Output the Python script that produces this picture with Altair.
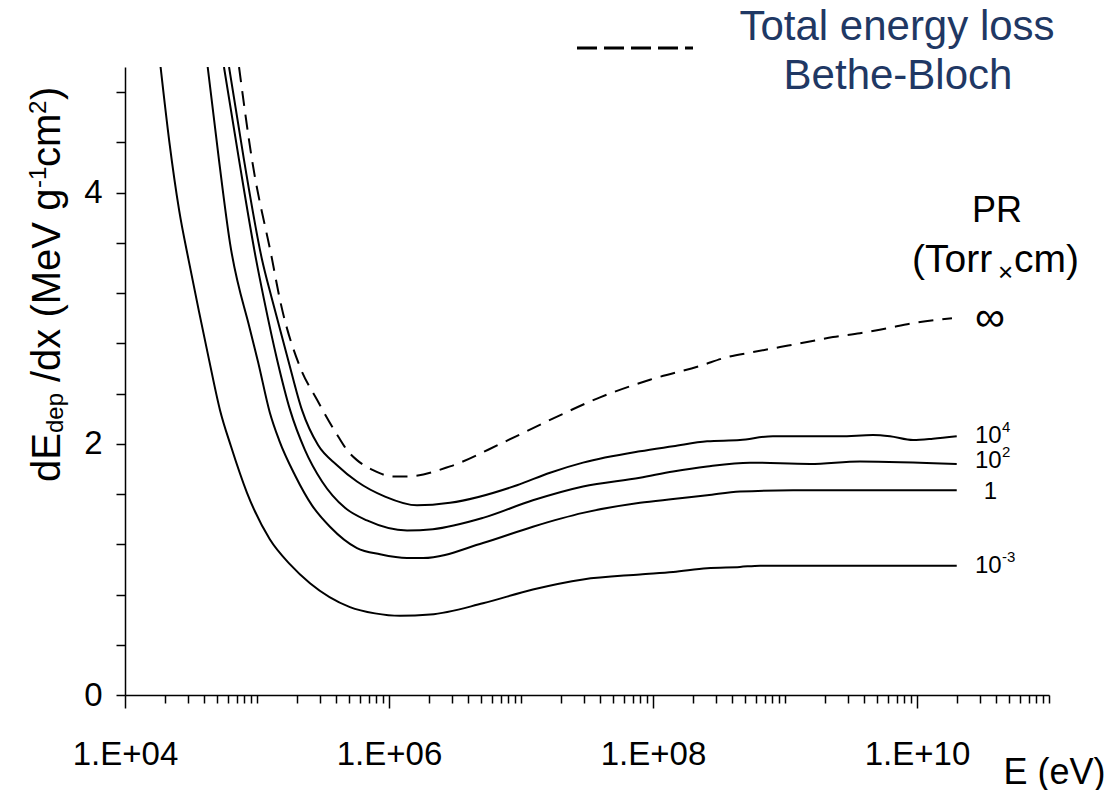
import altair as alt
import pandas as pd

FONT = "Liberation Sans, Arial, Helvetica, sans-serif"
NAVY = "#1f3864"

# Deposited energy dE_dep/dx (MeV g^-1 cm^2) against particle energy E (eV),
# one curve per pressure x range product PR (Torr x cm).
e_a = [1.86e4, 2.17e4, 2.57e4, 3.05e4, 3.64e4, 4.33e4, 5.24e4, 6.35e4, 8.40e4, 1.25e5,
       1.78e5, 2.52e5, 5.06e5, 7.83e5, 1.21e6, 2.05e6, 5.15e6, 1.23e7, 2.95e7, 7.97e7,
       1.42e8, 2.57e8, 4.56e8, 6.47e8, 2.0e10]
v_a = [5.0, 4.40, 3.86, 3.45, 3.05, 2.67, 2.27, 1.98, 1.61, 1.24,
       1.04, 0.89, 0.70, 0.65, 0.63, 0.64, 0.73, 0.84, 0.92, 0.96,
       0.98, 1.01, 1.02, 1.03, 1.03]

e_b = [4.23e4, 5.15e4, 6.24e4, 8.85e4, 1.02e5, 1.25e5, 1.47e5, 1.94e5, 2.61e5,
       3.57e5, 5.72e5, 8.55e5, 1.37e6, 1.81e6, 5.15e6, 1.23e7, 2.95e7, 7.97e7, 1.42e8,
       2.57e8, 4.56e8, 1.15e9, 2.0e10]
v_b = [5.0, 4.26, 3.60, 2.91, 2.65, 2.25, 2.03, 1.75, 1.51,
       1.34, 1.17, 1.12, 1.09, 1.09, 1.21, 1.34, 1.45, 1.53, 1.56,
       1.59, 1.62, 1.63, 1.63]

e_c = [5.62e4, 7.31e4, 9.83e4, 1.13e5, 1.42e5, 1.78e5, 2.31e5, 3.11e5, 4.64e5, 6.81e5,
       1.37e6, 2.15e6, 5.15e6, 1.23e7, 2.95e7, 7.97e7, 1.42e8, 2.57e8, 5.43e8, 1.55e9,
       3.70e9, 2.0e10]
v_c = [5.0, 4.26, 3.47, 3.15, 2.67, 2.27, 1.95, 1.70, 1.49, 1.39,
       1.31, 1.32, 1.41, 1.55, 1.66, 1.73, 1.78, 1.82, 1.85, 1.84,
       1.86, 1.84]

e_d = [6.14e4, 7.97e4, 1.09e5, 1.30e5, 1.72e5, 2.19e5, 2.90e5, 4.04e5, 5.72e5, 9.33e5,
       1.63e6, 2.90e6, 9.33e6, 1.66e7, 2.95e7, 7.97e7, 1.42e8, 2.57e8, 4.56e8, 8.11e8,
       2.61e9, 4.64e9, 6.24e9, 9.33e9, 1.32e10, 2.0e10]
v_d = [5.0, 4.26, 3.47, 3.15, 2.67, 2.27, 1.99, 1.83, 1.70, 1.58,
       1.51, 1.53, 1.67, 1.77, 1.85, 1.94, 1.98, 2.02, 2.03, 2.06,
       2.06, 2.07, 2.06, 2.03, 2.04, 2.06]

# Total energy loss (Bethe-Bloch), PR -> infinity
e_inf = [7.31e4, 9.17e4, 1.30e5, 1.49e5, 2.12e5, 2.85e5, 4.11e5, 4.81e5, 5.72e5, 7.57e5,
         1.07e6, 1.37e6, 2.90e6, 7.31e6, 1.66e7, 3.97e7, 9.49e7, 2.27e8, 3.64e8, 5.72e8,
         9.17e8, 1.47e9, 2.31e9, 3.70e9, 5.93e9, 9.33e9, 1.84e10]
v_inf = [5.0, 4.26, 3.47, 3.15, 2.61, 2.35, 2.06, 1.95, 1.87, 1.79,
         1.74, 1.74, 1.82, 2.01, 2.19, 2.37, 2.51, 2.62, 2.69, 2.73,
         2.77, 2.81, 2.85, 2.88, 2.92, 2.96, 3.00]

# End-of-curve labels: mantissa, exponent and anchor (E, dE/dx)
lab_base = ["10", "10", "1", "10"]
lab_exp = ["4", "2", "", "-3"]
lab_E = [2.75e10, 2.75e10, 3.2e10, 2.75e10]
lab_v = [2.06, 1.86, 1.62, 1.03]
inf_E = [2.75e10]
inf_v = [3.0]

# Axis ticks and labels
x_ticks = [m * 10 ** k for k in range(4, 11) for m in range(1, 10)] + [10 ** 11]
x_major = [10 ** 4, 10 ** 6, 10 ** 8, 10 ** 10]
x_tick_labels = ["1.E+04", "1.E+06", "1.E+08", "1.E+10"]
y_ticks = [0, 0.4, 0.8, 1.2, 1.6, 2, 2.4, 2.8, 3.2, 3.6, 4, 4.4, 4.8]
y_major = [0, 2, 4]
y_tick_labels = ["0", "2", "4"]

series = [("1e-3", e_a, v_a), ("1", e_b, v_b), ("1e2", e_c, v_c), ("1e4", e_d, v_d)]
solid = pd.DataFrame(
    [{"E": e, "dEdx": v, "PR": name} for name, es, vs in series for e, v in zip(es, vs)]
)
dashed = pd.DataFrame({"E": e_inf, "dEdx": v_inf})
labels = pd.DataFrame({"E": lab_E, "dEdx": lab_v, "base": lab_base, "exp": lab_exp})
inf_lab = pd.DataFrame({"E": inf_E, "dEdx": inf_v, "t": ["∞"]})
one = pd.DataFrame({"k": [0]})

x_scale = alt.Scale(type="log", domain=[1e4, 1e11])
y_scale = alt.Scale(domain=[0, 5])

major_test = " || ".join(f"datum.value == {m}" for m in x_major)
x_label_expr = " : ".join(
    f"datum.value == {m} ? '{t}'" for m, t in zip(x_major, x_tick_labels)
) + " : ''"
y_label_expr = " : ".join(
    f"datum.value == {m} ? '{t}'" for m, t in zip(y_major, y_tick_labels)
) + " : ''"

x_axis = alt.Axis(
    values=x_ticks, labelExpr=x_label_expr, labelOverlap=False, labelFlush=False,
    labelFont=FONT, labelFontSize=33, labelColor="black", labelPadding=30,
    tickSize={"condition": {"test": major_test, "value": 13}, "value": 8},
    tickColor="black", tickWidth=1.5, domainColor="black", domainWidth=1.5, grid=False,
    title="E (eV)", titleFont=FONT, titleFontSize=36, titleFontWeight="normal",
    titleColor="black", titleX=980, titleY=88, titleAlign="right",
    titleBaseline="alphabetic",
)
y_axis = alt.Axis(
    values=y_ticks, labelExpr=y_label_expr, labelOverlap=False, labelFlush=False,
    labelFont=FONT, labelFontSize=33, labelColor="black", labelPadding=14,
    tickSize=9, tickColor="black", tickWidth=1.5, domainColor="black", domainWidth=1.5,
    grid=False, title=None,
)

X = alt.X("E:Q", scale=x_scale, axis=x_axis)
Y = alt.Y("dEdx:Q", scale=y_scale, axis=y_axis)

curves = alt.Chart(solid).mark_line(
    color="black", strokeWidth=2, interpolate="monotone", clip=True
).encode(x=X, y=Y, detail="PR:N")

bethe = alt.Chart(dashed).mark_line(
    color="black", strokeWidth=2, strokeDash=[15, 9], interpolate="monotone", clip=True
).encode(x=X, y=Y)

lab_main = alt.Chart(labels).mark_text(
    font=FONT, fontSize=24, align="left", baseline="middle", color="black"
).encode(x=X, y=Y, text="base:N")
lab_sup = alt.Chart(labels).mark_text(
    font=FONT, fontSize=15, align="left", baseline="middle", color="black", dx=27, dy=-9
).encode(x=X, y=Y, text="exp:N")
lab_inf = alt.Chart(inf_lab).mark_text(
    font=FONT, fontSize=42, align="left", baseline="middle", color="black"
).encode(x=X, y=Y, text="t:N")


def note(text, x, y, size, color="black", align="left", angle=0):
    return alt.Chart(one).mark_text(
        text=text, font=FONT, fontSize=size, color=color, align=align,
        baseline="alphabetic", angle=angle,
    ).encode(x=alt.value(x), y=alt.value(y))


# y-axis title with sub/superscripts, written bottom-to-top
y_title = [
    note("dE", -65, 415, 40, angle=270),
    note("dep", -62, 366, 24, angle=270),
    note("/dx (MeV g", -65, 315, 40, angle=270),
    note("-1", -79, 121, 24, angle=270),
    note("cm", -65, 100, 40, angle=270),
    note("2", -79, 47, 24, angle=270),
    note(")", -65, 33, 40, angle=270),
]

# PR heading
pr_head = [
    note("PR", 872, 155, 36, align="center"),
    note("(Torr", 787, 205, 39),
    note("×", 873, 214, 26),
    note("cm)", 889, 205, 39),
]

# dashed-line key at the top
key_line = alt.Chart(one).mark_rule(
    color="black", strokeWidth=3, strokeDash=[20, 7]
).encode(x=alt.value(452), x2=alt.value(568), y=alt.value(-19))
key_text = [
    note("Total energy loss", 772, -27, 42, color=NAVY, align="center"),
    note("Bethe-Bloch", 773, 22, 42, color=NAVY, align="center"),
]

chart = alt.layer(
    curves, bethe, lab_main, lab_sup, lab_inf, key_line, *key_text, *y_title, *pr_head
).properties(
    width=924, height=628,
    autosize=alt.AutoSizeParams(type="none"),
    padding={"left": 125, "top": 67, "right": 67, "bottom": 95},
    background="white",
).configure_view(stroke=None)

chart.save("out.html", embed_options={"renderer": "svg", "actions": False})
